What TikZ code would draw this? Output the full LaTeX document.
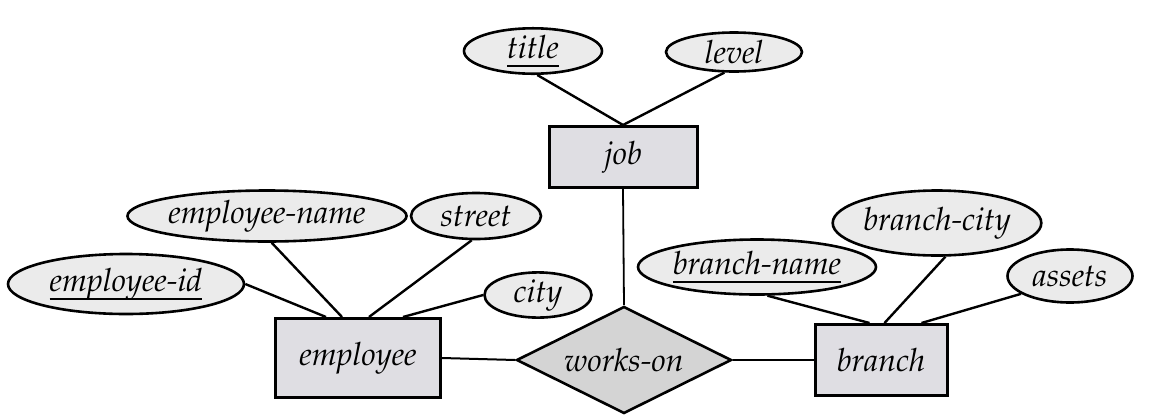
\documentclass[tikz,border=0pt]{standalone}
\usepackage[T1]{fontenc}
\usepackage{mathpazo}
\usetikzlibrary{shapes.geometric,calc}
\definecolor{attrgray}{HTML}{EBEBEB}
\definecolor{entgray}{HTML}{DFDEE3}
\definecolor{relgray}{HTML}{D4D4D4}
\newcommand{\keyattr}[1]{\setbox0\hbox{#1}\rlap{\rule[-9pt]{\wd0}{2.4pt}}\box0}
\begin{document}
\begin{tikzpicture}[x=1pt,y=-1pt,
    font=\fontsize{32}{38}\selectfont\itshape,
    attr/.style={ellipse,draw,fill=attrgray,line width=2.6pt,inner sep=0pt},
    entity/.style={rectangle,draw,fill=entgray,line width=3pt,inner sep=0pt},
    rel/.style={diamond,draw,fill=relgray,line width=2.6pt,inner sep=0pt,aspect=2},
    link/.style={line width=2.4pt}]
  \useasboundingbox (0,0) rectangle (1149,416);
  \node[entity,minimum width=165pt,minimum height=79pt] (emp) at (358,358) {employee};
  \node[entity,minimum width=148pt,minimum height=61pt] (job) at (623,157) {job};
  \node[entity,minimum width=132pt,minimum height=71pt] (branch) at (881,360) {branch};
  \node[rel,minimum width=215pt,minimum height=107pt] (works) at (624,360) {works-on};
  \node[attr,minimum width=236pt,minimum height=60pt] (eid) at (126,284) {\keyattr{employee-id}};
  \node[attr,minimum width=231pt,minimum height=51pt] (ename) at (267,216) {employee-name};
  \node[attr,minimum width=130pt,minimum height=46pt] (street) at (476,216) {street};
  \node[attr,minimum width=107pt,minimum height=42pt] (city) at (538,295) {city};
  \node[attr,minimum width=138pt,minimum height=40pt] (title) at (533,51) {\keyattr{title}};
  \node[attr,minimum width=136pt,minimum height=39pt] (level) at (734,52) {level};
  \node[attr,minimum width=220pt,minimum height=55pt] (bname) at (757,267) {\keyattr{branch-name}};
  \node[attr,minimum width=189pt,minimum height=65pt] (bcity) at (937,223) {branch-city};
  \node[attr,minimum width=125pt,minimum height=53pt] (assets) at (1070,276) {assets};
  \draw[link] (eid.east) -- ($(emp.north west)+(52,0)$);
  \draw[link] (ename.-80) -- ($(emp.north west)+(68,0)$);
  \draw[link] (street.-100) -- ($(emp.north west)+(95,0)$);
  \draw[link] (city.west) -- ($(emp.north west)+(129,0)$);
  \draw[link] (title.-80) -- (job.north);
  \draw[link] (level.-115) -- (job.north);
  \draw[link] (bname.-70) -- ($(branch.north west)+(56,0)$);
  \draw[link] (bcity.-76) -- ($(branch.north west)+(71,0)$);
  \draw[link] (assets.200) -- ($(branch.north west)+(108,0)$);
  \draw[line width=1.8pt] (job.south) -- (works.north);
  \draw[line width=2pt] (emp.east) -- (works.west);
  \draw[line width=2pt] (works.east) -- (branch.west);
\end{tikzpicture}
\end{document}
